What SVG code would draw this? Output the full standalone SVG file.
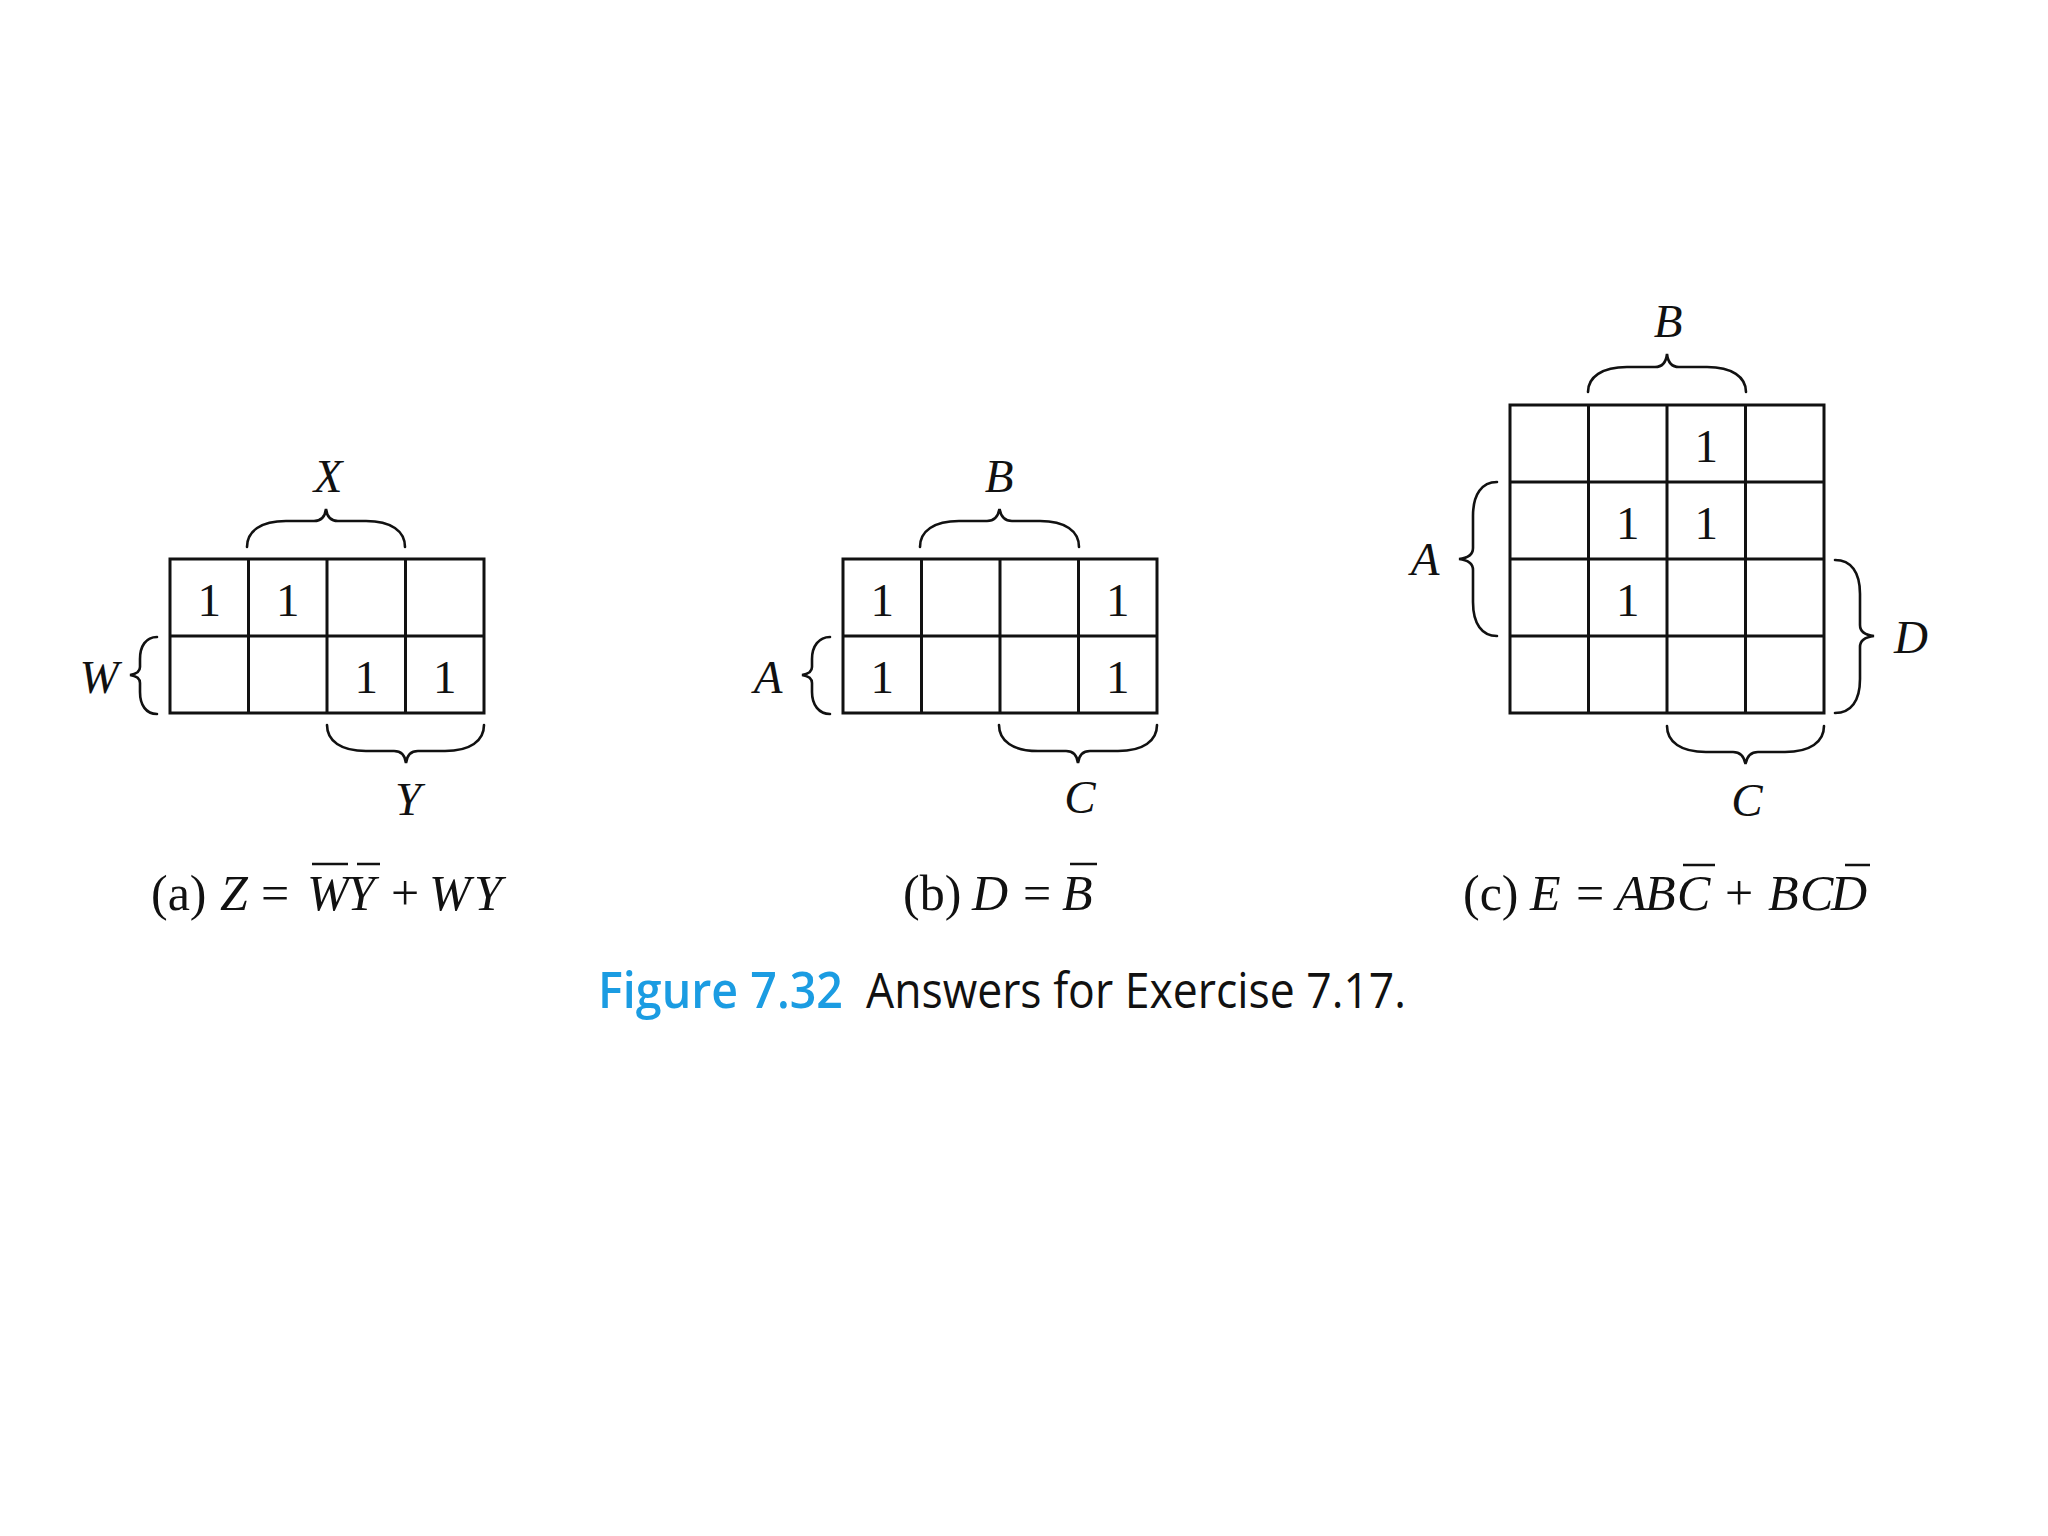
<svg xmlns="http://www.w3.org/2000/svg" width="2048" height="1536" viewBox="0 0 2048 1536">
<style>
.grid{fill:none;stroke:#111;stroke-width:3}
.brace{fill:none;stroke:#111;stroke-width:2.6;stroke-linecap:round}
.one{font-family:"Liberation Serif","Times New Roman",serif;font-size:47px;fill:#111;text-anchor:middle}
.lab{font-family:"Liberation Serif","Times New Roman",serif;font-size:47px;font-style:italic;fill:#111;text-anchor:middle}
.cap{font-family:"Liberation Serif","Times New Roman",serif;font-size:50px;fill:#111}
.it{font-style:italic}
.bar{stroke:#111;stroke-width:2.5}
.fig{font-family:"Open Sans","Noto Sans",sans-serif;font-size:50px}
</style>
<rect width="2048" height="1536" fill="#fff"/>

<g id="map-a">
<rect class="grid" x="170" y="559" width="314" height="154"/>
<path class="grid" d="M248.5,559V713M327,559V713M405.5,559V713M170,636H484"/>
<text class="one" x="209.25" y="615.5">1</text>
<text class="one" x="287.75" y="615.5">1</text>
<text class="one" x="366.25" y="692.5">1</text>
<text class="one" x="444.75" y="692.5">1</text>
<path class="brace" d="M247,547 C247,531 261,521 286,521 L314,521 C321,521 325,517 326,509 C327,517 331,521 338,521 L366,521 C391,521 405,531 405,547"/>
<path class="brace" d="M327,725 C327,741 341,751 366,751 L394,751 C401,751 405,755 406,763 C407,755 411,751 418,751 L445,751 C470,751 484,741 484,725"/>
<path class="brace" d="M157,637 C146,637 140,646 140,659 L140,667 C140,671 137,674 130,675 C137,676 140,679 140,683 L140,692 C140,705 146,714 157,714"/>
<text class="lab" x="328" y="492">X</text>
<text class="lab" x="99" y="693">W</text>
<text class="lab" x="408" y="815">Y</text>
</g>

<g id="map-b">
<rect class="grid" x="843" y="559" width="314" height="154"/>
<path class="grid" d="M921.5,559V713M1000,559V713M1078.5,559V713M843,636H1157"/>
<text class="one" x="882.25" y="615.5">1</text>
<text class="one" x="1117.75" y="615.5">1</text>
<text class="one" x="882.25" y="692.5">1</text>
<text class="one" x="1117.75" y="692.5">1</text>
<path class="brace" d="M920,547 C920,531 934,521 959,521 L987,521 C994,521 998,517 999.5,509 C1001,517 1005,521 1012,521 L1040,521 C1065,521 1079,531 1079,547"/>
<path class="brace" d="M999,725 C999,741 1013,751 1038,751 L1066,751 C1073,751 1077,755 1078,763 C1079,755 1083,751 1090,751 L1118,751 C1143,751 1157,741 1157,725"/>
<path class="brace" d="M830,637 C819,637 812,646 812,659 L812,667 C812,671 809,674 802,675 C809,676 812,679 812,683 L812,692 C812,705 819,714 830,714"/>
<text class="lab" x="999" y="492">B</text>
<text class="lab" x="768" y="693">A</text>
<text class="lab" x="1080" y="813">C</text>
</g>

<g id="map-c">
<rect class="grid" x="1510" y="405" width="314" height="308"/>
<path class="grid" d="M1588.5,405V713M1667,405V713M1745.5,405V713M1510,482H1824M1510,559H1824M1510,636H1824"/>
<text class="one" x="1706.25" y="461.5">1</text>
<text class="one" x="1627.75" y="538.5">1</text>
<text class="one" x="1706.25" y="538.5">1</text>
<text class="one" x="1627.75" y="615.5">1</text>
<path class="brace" d="M1588,392 C1588,377 1602,367 1627,367 L1655,367 C1662,367 1666,363 1667,354 C1668,363 1672,367 1679,367 L1707,367 C1732,367 1746,377 1746,392"/>
<path class="brace" d="M1497,482 C1482,482 1473,494 1473,516 L1473,548 C1473,554 1468,558 1459,559 C1468,560 1473,564 1473,570 L1473,602 C1473,624 1482,636 1497,636"/>
<path class="brace" d="M1835,560 C1851,560 1860,572 1860,594 L1860,625 C1860,631 1865,635 1874,636 C1865,637 1860,641 1860,647 L1860,679 C1860,701 1851,713 1835,713"/>
<path class="brace" d="M1667,726 C1667,742 1681,752 1706,752 L1733,752 C1740,752 1744,756 1745.5,764 C1747,756 1751,752 1758,752 L1785,752 C1810,752 1824,742 1824,726"/>
<text class="lab" x="1668" y="337">B</text>
<text class="lab" x="1425" y="575">A</text>
<text class="lab" x="1911" y="653">D</text>
<text class="lab" x="1747" y="816">C</text>
</g>

<g id="caption-a">
<text class="cap" y="910"><tspan x="151">(a)</tspan><tspan class="it" x="220">Z</tspan><tspan x="261">=</tspan><tspan class="it" x="307">W</tspan><tspan class="it" x="347">Y</tspan><tspan x="391">+</tspan><tspan class="it" x="429">W</tspan><tspan class="it" x="474">Y</tspan></text>
<path class="bar" d="M312,864H348M357,864H380"/>
</g>
<g id="caption-b">
<text class="cap" y="910"><tspan x="903">(b)</tspan><tspan class="it" x="972">D</tspan><tspan x="1023">=</tspan><tspan class="it" x="1062">B</tspan></text>
<path class="bar" d="M1070,864H1097"/>
</g>
<g id="caption-c">
<text class="cap" y="910"><tspan x="1463">(c)</tspan><tspan class="it" x="1530">E</tspan><tspan x="1576">=</tspan><tspan class="it" x="1616">A</tspan><tspan class="it" x="1645">B</tspan><tspan class="it" x="1677">C</tspan><tspan x="1725">+</tspan><tspan class="it" x="1768">B</tspan><tspan class="it" x="1800">C</tspan><tspan class="it" x="1831">D</tspan></text>
<path class="bar" d="M1683,865H1715M1845,865H1870"/>
</g>

<g id="figure-caption">
<text class="fig" x="598" y="1008" fill="#1b9ce2" font-weight="600" textLength="245" lengthAdjust="spacingAndGlyphs">Figure 7.32</text>
<text class="fig" x="866" y="1008" fill="#111" textLength="540" lengthAdjust="spacingAndGlyphs">Answers for Exercise 7.17.</text>
</g>
</svg>
